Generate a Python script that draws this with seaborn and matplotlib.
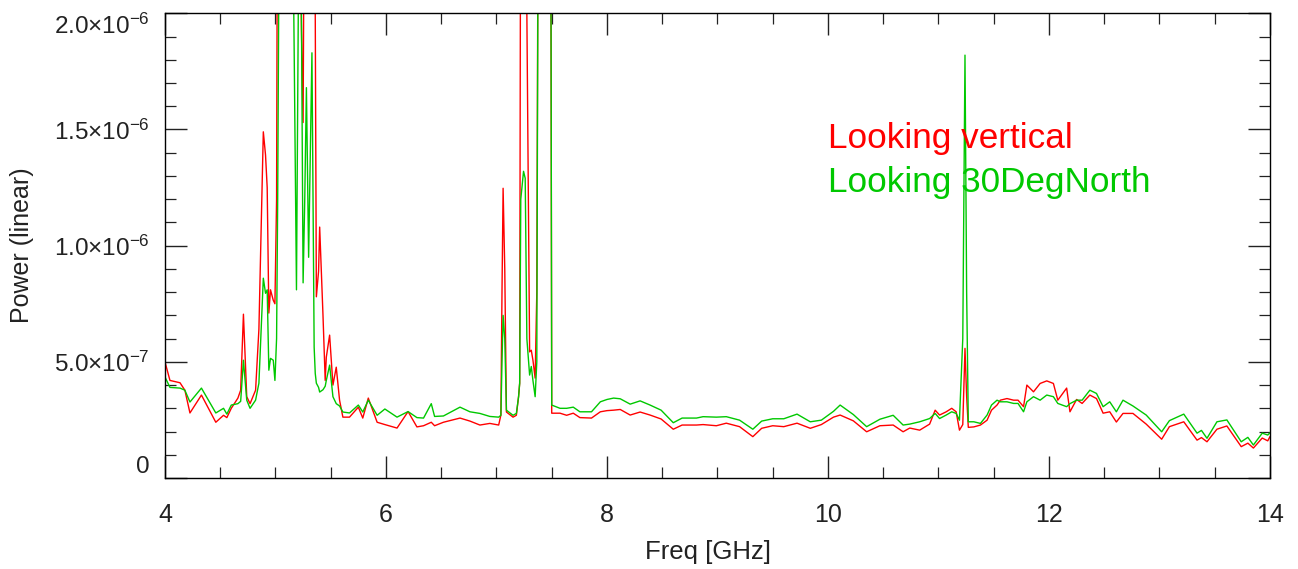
import numpy as np
import pandas as pd
import seaborn as sns
import matplotlib.pyplot as plt
from matplotlib.ticker import MultipleLocator

# frequency grid [GHz] and power, in units of 1e-7
freq = [4.00, 4.045, 4.136, 4.18, 4.226, 4.33, 4.46, 4.53, 4.56, 4.60, 4.66, 4.685,
        4.71, 4.74, 4.77, 4.82, 4.85, 4.89, 4.91, 4.925, 4.94, 4.955, 4.98, 4.995,
        5.01, 5.02, 5.04, 5.10, 5.155, 5.17, 5.19, 5.22, 5.235, 5.25, 5.265, 5.28,
        5.30, 5.33, 5.35, 5.36, 5.37, 5.39, 5.40, 5.43, 5.45, 5.46, 5.49, 5.52,
        5.55, 5.58, 5.61, 5.67, 5.75, 5.79, 5.84, 5.92, 5.99, 6.10, 6.20, 6.28,
        6.34, 6.41, 6.44, 6.52, 6.67, 6.76, 6.85, 6.94, 7.02, 7.04, 7.05, 7.06,
        7.075, 7.09, 7.15, 7.18, 7.20, 7.21, 7.22, 7.245, 7.26, 7.275, 7.30, 7.315,
        7.33, 7.35, 7.365, 7.38, 7.49, 7.50, 7.575, 7.635, 7.695, 7.755, 7.86, 7.94,
        8.00, 8.06, 8.12, 8.21, 8.30, 8.39, 8.49, 8.60, 8.68, 8.81, 8.87, 8.99,
        9.08, 9.20, 9.32, 9.40, 9.50, 9.60, 9.72, 9.84, 9.94, 10.05, 10.11, 10.23,
        10.35, 10.47, 10.59, 10.68, 10.74, 10.83, 10.92, 10.97, 11.01, 11.07, 11.12, 11.16,
        11.19, 11.22, 11.24, 11.255, 11.27, 11.32, 11.38, 11.44, 11.48, 11.53, 11.56, 11.62,
        11.68, 11.72, 11.77, 11.80, 11.86, 11.92, 11.98, 12.04, 12.08, 12.16, 12.19, 12.25,
        12.30, 12.37, 12.43, 12.49, 12.55, 12.61, 12.67, 12.76, 12.88, 13.02, 13.09, 13.22,
        13.34, 13.38, 13.43, 13.52, 13.61, 13.74, 13.80, 13.85, 13.93, 13.98, 14.00]

vertical = [5.0, 4.2, 4.1, 3.78, 2.8, 3.57, 2.4, 2.7, 2.6, 3.0, 3.44, 3.78,
            7.05, 3.5, 3.2, 3.78, 6.4, 14.9, 13.9, 12.5, 7.1, 8.1, 7.65, 7.5,
            12, 30, 30, 30, 30, 30, 30, 25, 19.3, 15.3, 30, 30,
            30, 30, 30, 20, 7.8, 8.9, 10.8, 7.0, 4.2, 5.2, 6.15, 4.0,
            4.77, 3.35, 2.62, 2.62, 3.05, 2.58, 3.44, 2.4, 2.3, 2.15, 2.86, 2.2,
            2.25, 2.4, 2.25, 2.4, 2.58, 2.45, 2.28, 2.35, 2.28, 2.71, 8, 12.47,
            9, 2.84, 2.62, 2.7, 3.5, 4.08, 30, 30, 30, 20, 5.43, 5.5,
            5.07, 4.3, 8, 30, 30, 2.79, 2.79, 2.7, 2.79, 2.6, 2.58, 2.85,
            2.9, 2.92, 2.95, 2.71, 2.84, 2.71, 2.54, 2.1, 2.28, 2.28, 2.3, 2.25,
            2.36, 2.21, 1.78, 2.14, 2.25, 2.21, 2.36, 2.14, 2.3, 2.62, 2.71, 2.46,
            1.99, 2.25, 2.28, 1.99, 2.15, 2.06, 2.32, 2.92, 2.71, 2.85, 3.0, 2.85,
            2.06, 2.3, 5.58, 3.5, 2.18, 2.2, 2.28, 2.49, 2.92, 3.14, 3.35, 3.42,
            3.35, 3.35, 3.07, 4.0, 3.71, 4.07, 4.18, 4.07, 3.35, 3.87, 2.85, 3.38,
            3.21, 3.57, 3.42, 2.79, 2.85, 2.41, 2.78, 2.78, 2.32, 1.67, 2.21, 2.42,
            1.63, 1.74, 1.56, 2.1, 2.24, 1.35, 1.5, 1.29, 1.72, 1.6, 1.78]

north30 = [4.35, 3.9, 3.87, 3.78, 3.27, 3.87, 2.8, 3.0, 2.75, 3.14, 3.2, 3.3,
           5.07, 3.35, 3.0, 3.35, 4.08, 8.6, 7.95, 8.1, 4.64, 5.15, 5.07, 4.2,
           6, 12, 30, 30, 25, 18, 8.1, 30, 20, 8.4, 12, 16.8,
           9.5, 18.3, 5.63, 4.5, 4.08, 3.9, 3.7, 3.8, 3.95, 4.2, 4.86, 3.5,
           3.2, 3.1, 2.84, 2.8, 3.14, 2.84, 3.35, 2.7, 2.97, 2.62, 2.86, 2.6,
           2.58, 3.2, 2.65, 2.67, 3.05, 2.85, 2.78, 2.65, 2.62, 2.7, 5, 7.0,
           6, 2.92, 2.7, 2.78, 3.5, 4.08, 12, 13.2, 12.9, 6, 4.43, 4.8,
           4.2, 3.5, 5, 30, 30, 3.14, 3.0, 3.0, 3.05, 2.85, 2.85, 3.28,
           3.38, 3.44, 3.41, 3.18, 3.32, 3.14, 2.92, 2.38, 2.58, 2.58, 2.64, 2.62,
           2.64, 2.49, 2.1, 2.45, 2.55, 2.55, 2.75, 2.42, 2.49, 2.87, 3.14, 2.73,
           2.21, 2.53, 2.7, 2.28, 2.32, 2.42, 2.56, 2.78, 2.56, 2.71, 2.85, 2.78,
           2.49, 6, 18.2, 8, 2.42, 2.42, 2.35, 2.71, 3.14, 3.35, 3.28, 3.28,
           3.21, 3.21, 2.85, 3.28, 3.5, 3.35, 3.57, 3.5, 3.21, 3.07, 3.2, 3.35,
           3.35, 3.78, 3.64, 3.07, 3.28, 2.85, 3.35, 3.1, 2.71, 1.99, 2.47, 2.75,
           1.93, 2.05, 1.71, 2.42, 2.5, 1.56, 1.75, 1.42, 1.93, 1.85, 1.95]

labels = ['Looking vertical', 'Looking 30DegNorth']
colors = ['#ff0000', '#00c800']

yticks = [0, 5e-7, 1e-6, 1.5e-6, 2e-6]
ytick_labels = ['0', r'$5.0{\times}10^{-7}$', r'$1.0{\times}10^{-6}$',
                r'$1.5{\times}10^{-6}$', r'$2.0{\times}10^{-6}$']
xticks = [4, 6, 8, 10, 12, 14]

df = pd.concat([
    pd.DataFrame({'freq': freq, 'power': np.array(vertical) * 1e-7, 'look': labels[0]}),
    pd.DataFrame({'freq': freq, 'power': np.array(north30) * 1e-7, 'look': labels[1]}),
])

sns.set_theme(style='ticks')
plt.rcParams['font.family'] = ['Liberation Sans', 'DejaVu Sans']
plt.rcParams['mathtext.fontset'] = 'custom'
plt.rcParams['mathtext.rm'] = 'Liberation Sans'
plt.rcParams['mathtext.it'] = 'Liberation Sans:italic'
plt.rcParams['mathtext.bf'] = 'Liberation Sans:bold'

fig = plt.figure(figsize=(12.98, 5.69), dpi=100)
ax = fig.add_axes([0.1271, 0.1599, 0.8513, 0.8167])

sns.lineplot(data=df, x='freq', y='power', hue='look', palette=colors,
             estimator=None, sort=False, legend=False, linewidth=1.0, ax=ax)

ax.set_xlim(4, 14)
ax.set_ylim(0, 2e-6)
ax.set_xticks(xticks)
ax.set_xticklabels([str(t) for t in xticks])
ax.set_yticks(yticks)
ax.set_yticklabels(ytick_labels)
ax.xaxis.set_minor_locator(MultipleLocator(0.5))
ax.yaxis.set_minor_locator(MultipleLocator(1e-7))
ax.tick_params(which='both', direction='in', top=True, right=True, color='#222222')
ax.tick_params(which='major', length=15.8, width=1.0, labelsize=18, colors='#222222')
ax.tick_params(which='minor', length=7.9, width=0.9)
ax.tick_params(axis='x', which='major', pad=18)
ax.tick_params(axis='y', which='major', pad=11, labelsize=17.5)

# IDL-style: nudge top and bottom y labels inward
ylabs = ax.get_yticklabels()
ylabs[0].set_va('bottom')
ylabs[-1].set_va('top')

for s in ax.spines.values():
    s.set_color('black')
    s.set_linewidth(1.0)

ax.set_xlabel('Freq [GHz]', fontsize=18.5, color='#222222')
ax.set_ylabel('Power (linear)', fontsize=18, color='#222222')
ax.xaxis.set_label_coords(0.491, -0.159)
ax.yaxis.set_label_coords(-0.1294, 0.5)
ax.xaxis.label.set_va('center')
ax.yaxis.label.set_va('center')

ax.text(0.600, 0.7097, labels[0], transform=ax.transAxes, color=colors[0],
        fontsize=25.3, va='baseline', ha='left')
ax.text(0.600, 0.615, labels[1], transform=ax.transAxes, color=colors[1],
        fontsize=25.3, va='baseline', ha='left')

fig.savefig('out.png', dpi=100)
